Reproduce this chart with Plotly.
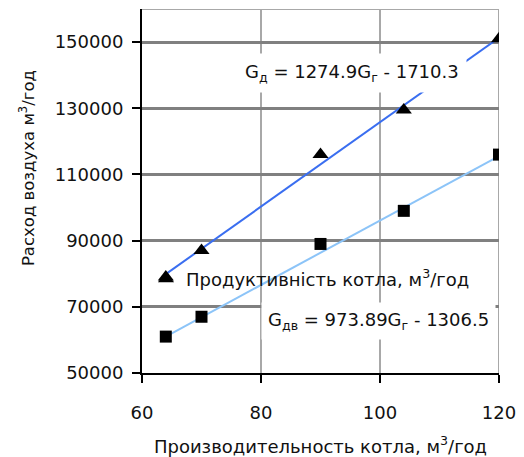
import plotly.graph_objects as go

# Data
capacity = [64, 70, 90, 104, 120]
air_d = [79000, 87000, 116000, 129500, 151000]     # triangles (G_д)
air_dv = [61000, 67000, 89000, 99000, 116000]      # squares (G_дв)

# Trendline coefficients shown on the chart
slope_d, icpt_d = 1274.9, -1710.3
slope_dv, icpt_dv = 973.89, -1306.5
fit_x = [64, 120]

x_ticks = [60, 80, 100, 120]
y_ticks = [50000, 70000, 90000, 110000, 130000, 150000]

FONT = "DejaVu Sans, Liberation Sans, Arial, sans-serif"
TXT = "#111111"

fig = go.Figure()

fig.add_trace(go.Scatter(
    x=fit_x, y=[slope_d * v + icpt_d for v in fit_x], mode="lines",
    line=dict(color="#3a6ef0", width=2), showlegend=False, hoverinfo="skip"))
fig.add_trace(go.Scatter(
    x=fit_x, y=[slope_dv * v + icpt_dv for v in fit_x], mode="lines",
    line=dict(color="#8cc4f8", width=2), showlegend=False, hoverinfo="skip"))

fig.add_trace(go.Scatter(
    x=capacity, y=air_dv, mode="markers", name="G_дв",
    marker=dict(symbol="square", size=12, color="black"), showlegend=False))
fig.add_trace(go.Scatter(
    x=capacity, y=air_d, mode="markers",
    name="Продуктивність котла, м<sup>3</sup>/год",
    marker=dict(symbol="triangle-up", size=14, color="black"), showlegend=True))

fig.update_layout(
    width=524, height=457,
    margin=dict(l=142, r=25, t=9, b=84),
    paper_bgcolor="white", plot_bgcolor="white",
    font=dict(family=FONT, size=18, color=TXT),
    legend=dict(x=0.0112, y=0.258, xanchor="left", yanchor="middle",
                bgcolor="rgba(0,0,0,0)", borderwidth=0,
                font=dict(family=FONT, size=18, color=TXT)),
    xaxis=dict(range=[60, 120], tickvals=x_ticks, ticktext=[str(v) for v in x_ticks],
               automargin=False,
               showgrid=True, gridcolor="#a8a8a8", gridwidth=2,
               showline=True, linecolor="black", linewidth=2,
               ticks="outside", ticklen=8, tickwidth=2, tickcolor="black",
               ticklabelstandoff=14, zeroline=False,
               title=dict(text="Производительность котла, м<sup>3</sup>/год",
                          standoff=19, font=dict(size=18))),
    yaxis=dict(range=[50000, 160000], tickvals=y_ticks, ticktext=[str(v) for v in y_ticks],
               automargin=False,
               showgrid=True, gridcolor="#808080", gridwidth=2.5,
               showline=True, linecolor="black", linewidth=2,
               ticks="outside", ticklen=8, tickwidth=2, tickcolor="black",
               ticklabelstandoff=5, zeroline=False),
    shapes=[
        dict(type="line", xref="paper", yref="y", x0=0, x1=1, y0=160000, y1=160000,
             line=dict(color="#a8a8a8", width=2), layer="below"),
        dict(type="line", xref="x", yref="paper", x0=120, x1=120, y0=0, y1=1,
             line=dict(color="#a8a8a8", width=2), layer="below"),
    ],
    annotations=[
        dict(text="Расход воздуха м<sup>3</sup>/год", xref="paper", yref="paper",
             x=-0.322, y=0.563, xanchor="center", yanchor="middle",
             textangle=-90, showarrow=False, font=dict(size=16.5)),
        dict(text="G<sub>д</sub> = 1274.9G<sub>г</sub> - 1710.3", xref="x", yref="y",
             x=95.3, y=140600, xanchor="center", yanchor="middle", showarrow=False,
             bgcolor="white", borderpad=7, font=dict(size=18)),
        dict(text="G<sub>дв</sub> = 973.89G<sub>г</sub> - 1306.5", xref="x", yref="y",
             x=99.8, y=65700, xanchor="center", yanchor="middle", showarrow=False,
             bgcolor="white", borderpad=6, font=dict(size=18)),
    ],
)

fig.write_html("out.html")
